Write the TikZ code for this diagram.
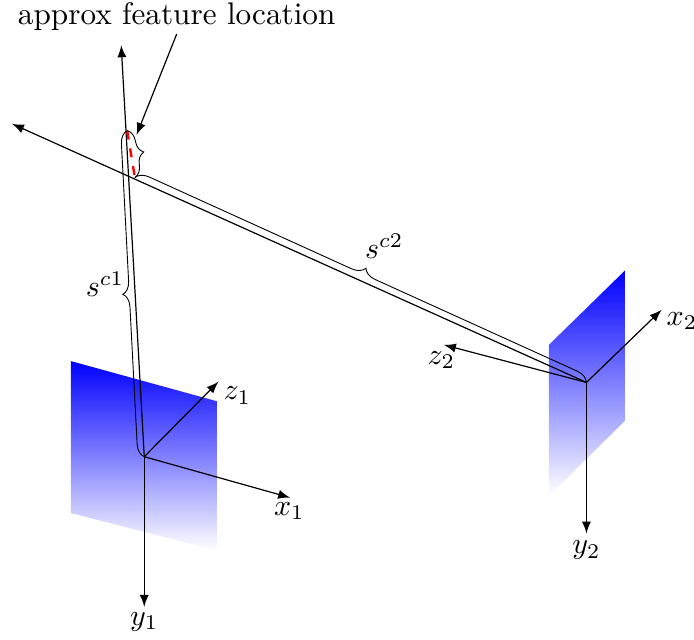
\documentclass[tikz,border=0pt]{standalone}
\usepackage{amsmath}
\usepackage{tikz}
\usetikzlibrary{arrows, positioning, calc, decorations.pathreplacing}

\tikzset{
    axisline/.style={-latex},
    planeshade/.style={top color=blue, bottom color=white},
    rangebrace/.style={line width=0.3pt, decorate, decoration={brace, amplitude=4.3pt}},
    labeltext/.style={font=\fontsize{10.4}{12.5}\selectfont}
}

\begin{document}
\begin{tikzpicture}
    \useasboundingbox (0,0) rectangle (8.13,7.49);

    % Image planes
    \shade[planeshade] (0.83,3.26) -- (2.54,2.79) -- (2.54,1.04) -- (0.83,1.48) -- cycle;
    \shade[planeshade] (6.43,3.45) -- (7.32,4.32) -- (7.32,2.56) -- (6.43,1.68) -- cycle;

    % Camera centres and axis ends
    \coordinate (O1) at (1.69,2.14);
    \coordinate (O2) at (6.87,3.01);
    \coordinate (ray1) at (1.42,6.96);
    \coordinate (ray2) at (0.14,6.04);
    \coordinate (featTop) at (1.49,5.96);
    \coordinate (featBot) at (1.58,5.41);
    \coordinate (featTip) at (1.60,5.91);

    % Camera 1 axes
    \node[labeltext] (x1) at (3.39,1.505) {$x_1$};
    \node[labeltext] (y1) at (1.69,0.205) {$y_1$};
    \node[labeltext] (z1) at (2.78,2.855) {$z_1$};
    \draw[axisline] (O1) -- (3.40,1.66);
    \draw[axisline] (O1) -- (1.69,0.38);
    \draw[axisline] (O1) -- (2.56,3.02);

    % Camera 2 axes
    \node[labeltext] (x2) at (7.99,3.73) {$x_2$};
    \node[labeltext] (y2) at (6.87,1.045) {$y_2$};
    \node[labeltext] (z2) at (5.17,3.27) {$z_2$};
    \draw[axisline] (O2) -- (7.75,3.86);
    \draw[axisline] (O2) -- (6.87,1.24);
    \draw[axisline] (O2) -- (5.20,3.45);

    % Rays
    \draw[axisline] (O1) -- (ray1);
    \draw[axisline] (O2) -- (ray2);

    % Feature range
    \draw[red, thick, dashed] (featTop) -- (featBot);

    % Braces
    \draw[rangebrace] (O1) -- (featTop);
    \draw[rangebrace] (featTop) -- (featBot);
    \draw[rangebrace] (featBot) -- (O2);
    \node[labeltext] (sc1) at (1.23,4.16) {$s^{c1}$};
    \node[labeltext] (sc2) at (4.50,4.61) {$s^{c2}$};

    % Label
    \node[labeltext] (feat) at (2.07,7.30) {approx feature location};
    \draw[axisline] ([yshift=0.08cm]feat.south) -- (featTip);
\end{tikzpicture}
\end{document}
